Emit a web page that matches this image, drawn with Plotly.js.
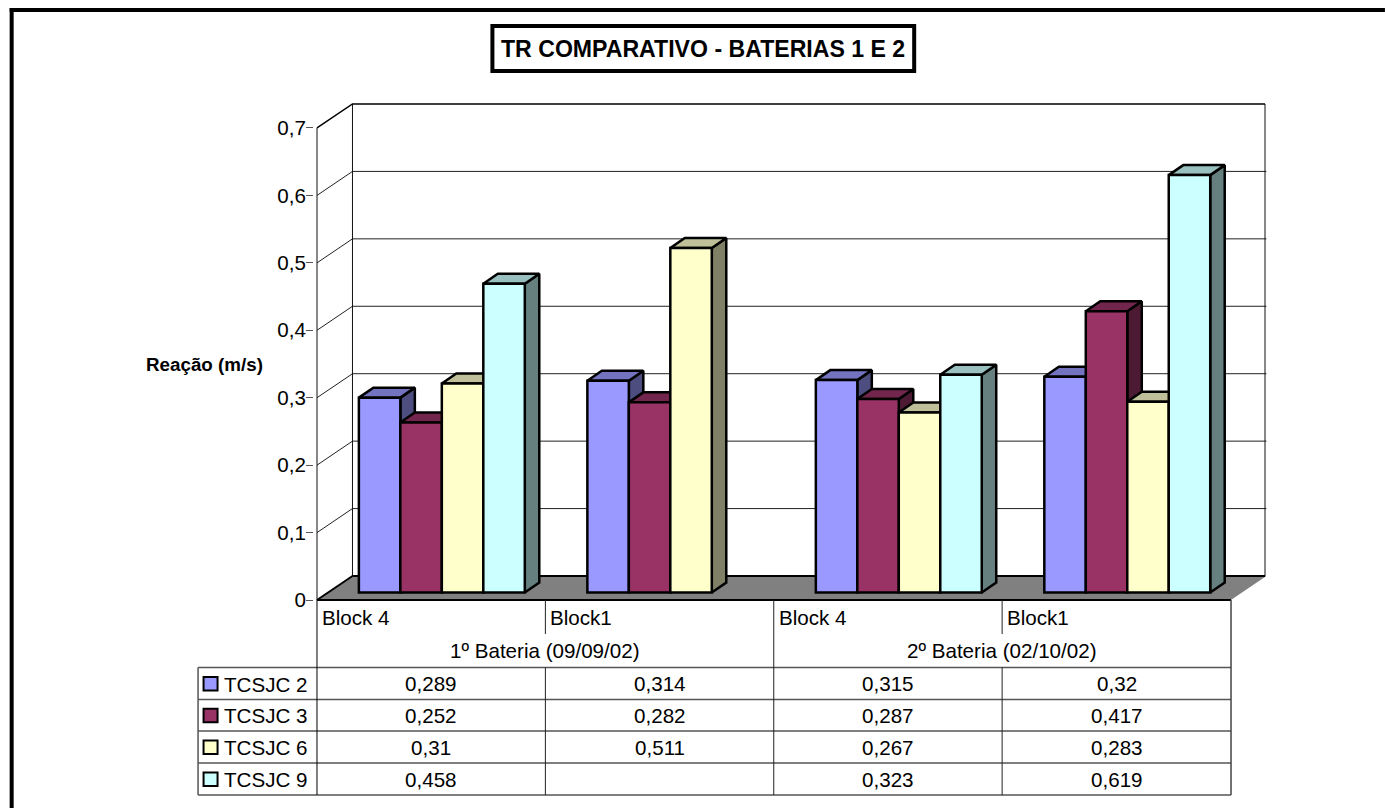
<!DOCTYPE html>
<html>
<head>
<meta charset="utf-8">
<script src="https://cdn.plot.ly/plotly-3.0.1.min.js"></script>
<style>html,body{margin:0;padding:0;background:#fff}#chart{width:1385px;height:808px}</style>
</head>
<body>
<div id="chart"></div>
<script>
// Reaction times per test block, two test rounds
const blocks = ['Block 4', 'Block1', 'Block 4', 'Block1'];
const rounds = ['1º Bateria (09/09/02)', '2º Bateria (02/10/02)'];
const seriesNames = ['TCSJC 2', 'TCSJC 3', 'TCSJC 6', 'TCSJC 9'];
const tcsjc2 = [0.289, 0.314, 0.315, 0.32];
const tcsjc3 = [0.252, 0.282, 0.287, 0.417];
const tcsjc6 = [0.31, 0.511, 0.267, 0.283];
const tcsjc9 = [0.458, null, 0.323, 0.619];
const seriesValues = [tcsjc2, tcsjc3, tcsjc6, tcsjc9];

const frontColors = ['#9999FF', '#993366', '#FFFFCC', '#CCFFFF'];
const topColors = ['#7373BF', '#73264D', '#BFBF99', '#99BFBF'];
const sideColors = ['#4D4D80', '#4D1A33', '#808066', '#668080'];
const axisTicks = [0, 0.1, 0.2, 0.3, 0.4, 0.5, 0.6, 0.7];

// Page geometry: the origin of the axes, with a small pad around the drawing
// so that the edge lines of the walls and floor are not clipped
const W = 1385, H = 808;
const originX = 316.5, originY = 600, wallRight = 1265, wallTop = 104, pad = 3;
const plotLeft = originX - pad, plotRight = wallRight + pad;
const plotTop = wallTop - pad, plotBottom = originY + pad;
const catPx = 228.6, unitPx = 674.3;
const X = px => px / catPx;                   // pixel lengths to category units
const Yv = px => px / unitPx;                 // pixel lengths to value units
const wallDx = X(35.5), wallDy = Yv(24);
const barDx = X(14.5), barDy = Yv(10);
const barBase = Yv(7.5), barShift = X(10.6);
const groupWidth = 166 / catPx, barWidth = groupWidth / 4;
const xEnd = X(wallRight - originX), yEnd = Yv(originY - wallTop);

// Paper coordinates are relative to the plot box
const paperX = px => (px - plotLeft) / (plotRight - plotLeft);
const paperY = py => (plotBottom - py) / (plotBottom - plotTop);
const traces = [];

// Floor
traces.push({
  x: [0, wallDx, 4 + wallDx, 4, 0], y: [0, wallDy, wallDy, 0, 0],
  mode: 'lines', fill: 'toself', fillcolor: '#808080', line: {width: 0},
  hoverinfo: 'skip', showlegend: false, xaxis: 'x', yaxis: 'y'
});

// Back and side wall gridlines
const gx = [], gy = [];
axisTicks.slice(1, -1).forEach(v => {
  gx.push(0, wallDx, 4 + wallDx, null);
  gy.push(v, v + wallDy, v + wallDy, null);
});
traces.push({x: gx, y: gy, mode: 'lines', line: {color: '#222', width: 1},
  hoverinfo: 'skip', showlegend: false, xaxis: 'x', yaxis: 'y'});

// Wall verticals and the outer top edge
traces.push({
  x: [wallDx, wallDx, null, xEnd, xEnd, null, 0, 0],
  y: [wallDy, yEnd, null, wallDy, yEnd, null, 0, 0.7],
  mode: 'lines', line: {color: '#111', width: 1},
  hoverinfo: 'skip', showlegend: false, xaxis: 'x', yaxis: 'y'
});
traces.push({
  x: [0, wallDx, xEnd], y: [0.7, yEnd, yEnd],
  mode: 'lines', line: {color: '#000', width: 1.5},
  hoverinfo: 'skip', showlegend: false, xaxis: 'x', yaxis: 'y'
});
// Floor edges
traces.push({
  x: [0, 4, null, wallDx, xEnd, null, 0, wallDx],
  y: [0, 0, null, wallDy, wallDy, null, 0, wallDy],
  mode: 'lines', line: {color: '#000', width: 2},
  hoverinfo: 'skip', showlegend: false, xaxis: 'x', yaxis: 'y'
});

// Tops and sides of the columns, painted left to right
const edge = 2.5;
const groupCentre = i => i + 0.5 + barShift;
seriesValues.forEach((vals, s) => {
  vals.forEach((v, i) => {
    if (v === null) return;
    const x0 = groupCentre(i) - groupWidth / 2 + s * barWidth, x1 = x0 + barWidth;
    const y0 = barBase, y1 = barBase + v;
    traces.push({
      x: [x1, x1 + barDx, x1 + barDx, x1, x1], y: [y0, y0 + barDy, y1 + barDy, y1, y0],
      mode: 'lines', fill: 'toself', fillcolor: sideColors[s],
      line: {color: '#000', width: edge}, hoverinfo: 'skip', showlegend: false, xaxis: 'x', yaxis: 'y'
    });
    traces.push({
      x: [x0, x0 + barDx, x1 + barDx, x1, x0], y: [y1, y1 + barDy, y1 + barDy, y1, y1],
      mode: 'lines', fill: 'toself', fillcolor: topColors[s],
      line: {color: '#000', width: edge}, hoverinfo: 'skip', showlegend: false, xaxis: 'x', yaxis: 'y'
    });
  });
});

// Column fronts sit on an overlaying subplot so they cover every side face
seriesValues.forEach((vals, s) => {
  traces.push({
    type: 'bar', name: seriesNames[s],
    x: vals.map((_, i) => groupCentre(i)), y: vals,
    base: vals.map(() => barBase),
    width: barWidth, offset: vals.map(() => -groupWidth / 2 + s * barWidth),
    marker: {color: frontColors[s], line: {color: '#000', width: edge}},
    showlegend: false, xaxis: 'x2', yaxis: 'y2'
  });
});

const font = {family: '"Liberation Sans", Arial, sans-serif', color: '#000'};
const tableSize = 20.6;
const annotations = [], shapes = [];
const note = (px, py, text, size, anchor, bold) => annotations.push({
  xref: 'paper', yref: 'paper', x: paperX(px), y: paperY(py), text: bold ? '<b>' + text + '</b>' : text,
  showarrow: false, xanchor: anchor, yanchor: 'middle',
  font: Object.assign({}, font, {size}), borderpad: 0
});
const rule = (x0, y0, x1, y1, color, width) => shapes.push({
  type: 'line', xref: 'paper', yref: 'paper', layer: 'above',
  x0: paperX(x0), y0: paperY(y0), x1: paperX(x1), y1: paperY(y1),
  line: {color, width}
});

// Page frame
const tableLeft = 197.5;
rule(9, 10, W, 10, '#000', 4);
rule(11, 8, 11, H, '#000', 4);

// Title box
shapes.push({
  type: 'rect', xref: 'paper', yref: 'paper', layer: 'above',
  x0: paperX(492), x1: paperX(914), y0: paperY(26), y1: paperY(71),
  line: {color: '#000', width: 4}, fillcolor: '#fff'
});
note(703, 49, 'TR COMPARATIVO - BATERIAS 1 E 2', 23.1, 'center', true);
note(204, 364, 'Reação (m/s)', 18.8, 'center', true);

// Data table below the plot
const colX = [316.5, 545, 773.5, 1002, 1231];
const rowY = [667.5, 699.5, 731, 763, 795];
rowY.forEach(y => rule(tableLeft, y, 1231, y, '#555', 1.5));
rule(tableLeft, rowY[0], tableLeft, rowY[4], '#555', 1.5);
rule(316.5, 600, 316.5, rowY[4], '#000', 1);
rule(773.5, 600, 773.5, rowY[4], '#222', 1);
rule(1231, 600, 1231, rowY[4], '#444', 1.5);
[545, 1002].forEach(x => {
  rule(x, 600, x, 634, '#222', 1);
  rule(x, rowY[0], x, rowY[4], '#222', 1);
});
blocks.forEach((b, i) => note(colX[i] + 4, 617, b, tableSize, 'left'));
rounds.forEach((r, i) => note((colX[i * 2] + colX[i * 2 + 2]) / 2, 650, r, tableSize, 'center'));
seriesNames.forEach((name, s) => {
  const cy = (rowY[s] + rowY[s + 1]) / 2;
  shapes.push({
    type: 'rect', xref: 'paper', yref: 'paper', layer: 'above',
    x0: paperX(203), x1: paperX(217), y0: paperY(cy - 6.5), y1: paperY(cy + 7),
    line: {color: '#000', width: 2}, fillcolor: frontColors[s]
  });
  note(222, cy + 0.5, name, tableSize, 'left');
  seriesValues[s].forEach((v, i) => {
    if (v !== null) note((colX[i] + colX[i + 1]) / 2, cy, String(v).replace('.', ','), tableSize, 'center');
  });
});

const xRange = [-X(pad), X(wallRight - originX + pad)];
const yRange = [-Yv(pad), Yv(originY - wallTop + pad)];
const layout = {
  width: W, height: H, paper_bgcolor: '#fff', plot_bgcolor: '#fff',
  margin: {l: plotLeft, r: W - plotRight, t: plotTop, b: H - plotBottom, pad: 0},
  separators: ', ', showlegend: false, barmode: 'overlay', font,
  xaxis: {range: xRange, showgrid: false, zeroline: false, showline: false, showticklabels: false, ticks: '', fixedrange: true},
  yaxis: {
    range: yRange, tickmode: 'array', tickvals: axisTicks,
    ticktext: axisTicks.map(v => String(v).replace('.', ',')),
    ticks: 'outside', ticklen: 7, tickcolor: '#555', tickwidth: 1, ticklabelstandoff: -4,
    tickfont: Object.assign({}, font, {size: tableSize}),
    showgrid: false, zeroline: false, showline: false, fixedrange: true
  },
  xaxis2: {overlaying: 'x', matches: 'x', anchor: 'y2', showgrid: false, zeroline: false, showticklabels: false, ticks: '', fixedrange: true},
  yaxis2: {overlaying: 'y', matches: 'y', anchor: 'x2', showgrid: false, zeroline: false, showticklabels: false, ticks: '', fixedrange: true},
  shapes, annotations
};

Plotly.newPlot('chart', traces, layout, {displayModeBar: false, staticPlot: true});
</script>
</body>
</html>
